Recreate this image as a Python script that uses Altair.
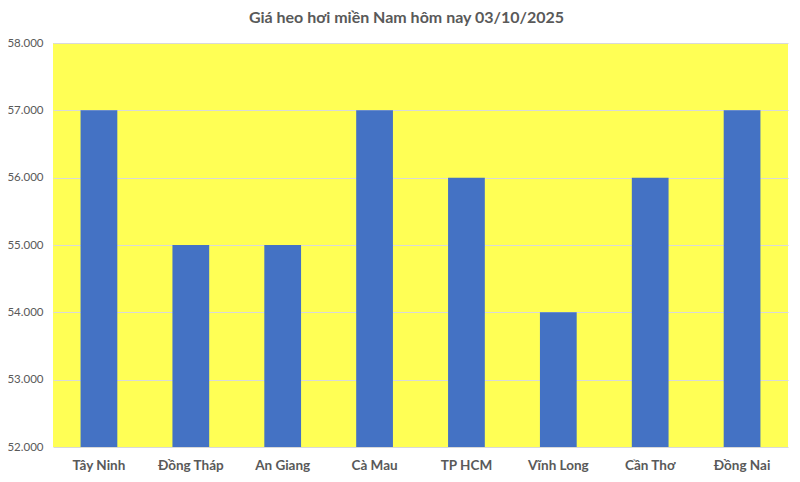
import altair as alt
import pandas as pd

provinces = ["Tây Ninh", "Đồng Tháp", "An Giang", "Cà Mau",
             "TP HCM", "Vĩnh Long", "Cần Thơ", "Đồng Nai"]
prices = [57000, 55000, 55000, 57000, 56000, 54000, 56000, 57000]

df = pd.DataFrame({"province": provinces, "price": prices})

font = "Lato"
grey = "#595959"

bars = alt.Chart(df).mark_bar(color="#4472C4").encode(
    x=alt.X("province:N", sort=provinces, title=None,
            scale=alt.Scale(paddingInner=0.6, paddingOuter=0.3),
            axis=alt.Axis(labelAngle=0, labelFontWeight="bold", labelFontSize=13.5,
                          labelColor=grey, labelFont=font, ticks=False,
                          domain=False, labelPadding=11)),
    y=alt.Y("price:Q", title=None,
            scale=alt.Scale(domain=[52000, 58000], zero=False, nice=False),
            axis=alt.Axis(values=[52000, 53000, 54000, 55000, 56000, 57000, 58000],
                          labelExpr="replace(format(datum.value, ','), ',', '.')",
                          labelFontSize=11.5, labelColor=grey, labelFont=font,
                          ticks=False, domain=False, labelPadding=10,
                          gridColor="#D9D9D9", gridWidth=1)),
    y2=alt.datum(52000),
)

chart = bars.properties(
    width=735,
    height=404,
    autosize=alt.AutoSizeParams(type="none"),
    padding={"left": 45, "top": 35, "right": 4, "bottom": 35},
    background="white",
    title=alt.TitleParams("Giá heo hơi miền Nam hôm nay 03/10/2025",
                          font=font, fontSize=16, fontWeight="bold",
                          color=grey, offset=11, dx=-14),
).configure_view(fill="#FFFF55", stroke=None)

chart.save("out.html", embed_options={"renderer": "svg", "actions": False})
